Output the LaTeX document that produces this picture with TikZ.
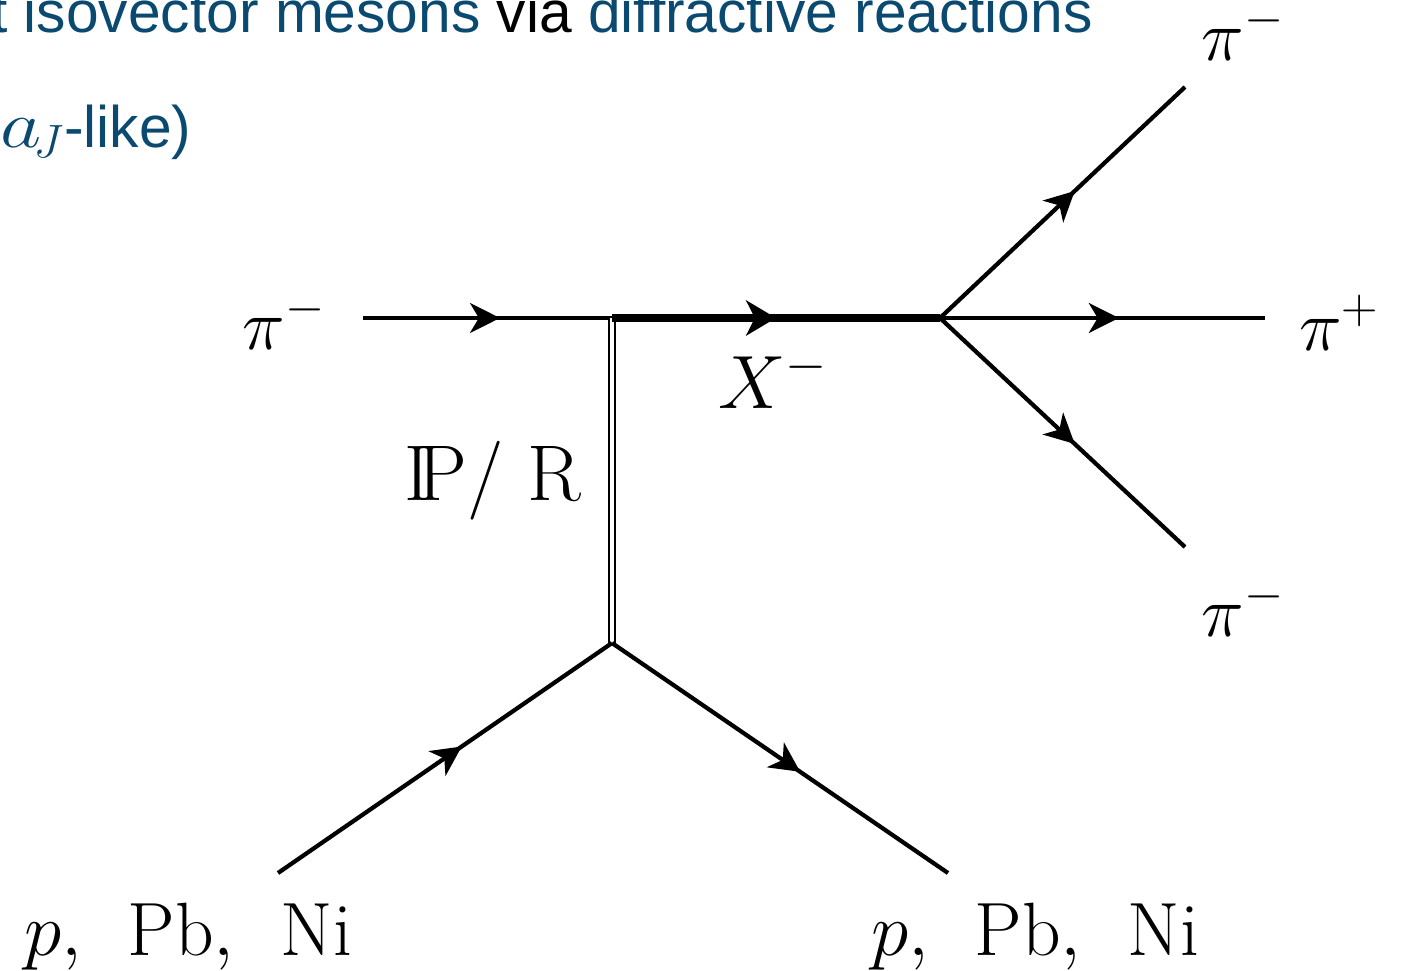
\documentclass[tikz,border=0pt]{standalone}
\RequirePackage{fix-cm}
\usepackage{amsmath}
\usepackage{fontspec}
\newfontfamily\slidefont{Liberation Sans}
\usepackage{xcolor}
\usepackage{tikz}
\usetikzlibrary{arrows.meta,positioning,decorations.markings}
\definecolor{slideblue}{HTML}{0B4A70}
\tikzset{
  fermion/.style={line width=2.4pt,postaction={decorate},
    decoration={markings,mark=at position #1 with
      {\arrow{Stealth[length=17pt,width=17pt,inset=5pt]}}}},
  fermion/.default=0.55,
  heavy/.style={line width=5pt,postaction={decorate},
    decoration={markings,mark=at position #1 with
      {\arrow{Stealth[length=17pt,width=20pt,inset=5pt]}}}},
  heavy/.default=0.5,
  reggeon/.style={double,line width=1.1pt,double distance=1.8pt},
  plab/.style={font=\fontsize{41}{49}\selectfont,inner sep=0pt,anchor=base},
  plabl/.style={plab,font=\fontsize{43}{51}\selectfont},
  slide/.style={font=\slidefont\fontsize{33.4}{40}\selectfont,inner sep=0pt,anchor=base west},
}
\begin{document}
\begin{tikzpicture}[x=0.02cm,y=-0.02cm]
  \useasboundingbox (0,0) rectangle (1402,970);
  \clip (0,0) rectangle (1402,970);
  % slide title, cut by the frame
  \node[slide](title) at (-9,32){\color{slideblue}t isovector mesons \color{black}via \color{slideblue}diffractive reactions};
  \node[slide](sub) at (0,147){\color{slideblue}{\fontsize{38}{44}\selectfont$\scalebox{1.2}[1]{$a$}_{\!J}$}-like)};
  % vertices and free ends
  \coordinate (top) at (612,318);
  \coordinate (dec) at (940,318);
  \coordinate (bot) at (612,643);
  \coordinate (beam) at (363,318);
  \coordinate (f1) at (1185,87);
  \coordinate (f2) at (1265,318);
  \coordinate (f3) at (1185,547);
  \coordinate (tin) at (278,873);
  \coordinate (tout) at (948,873);
  \draw[fermion](beam)--(top);
  \draw[reggeon](top)--(bot);
  \draw[heavy](top)--(dec);
  \foreach \y in {f1,f2,f3} \draw[fermion](dec)--(\y);
  \draw[fermion](tin)--(bot);
  \draw[fermion=0.56](bot)--(tout);
  % labels
  \node[plab](lbeam) at (284,349){$\pi^-$};
  \node[plabl](lx) at (773,408){$X^-$};
  \node[plab,font=\fontsize{45}{52}\selectfont](lpom) at (493,500){$\mathrm{I\!P}/\ \mathrm{R}$};
  \node[plab](l1) at (1243,60){$\pi^-$};
  \node[plab](l2) at (1339,350){$\pi^+$};
  \node[plab](l3) at (1243,636){$\pi^-$};
  \node[plabl](ltin) at (188,955){$p,\;\,\mathrm{Pb},\;\,\mathrm{Ni}$};
  \node[plabl](ltout) at (1035,955){$p,\;\,\mathrm{Pb},\;\,\mathrm{Ni}$};
\end{tikzpicture}
\end{document}
